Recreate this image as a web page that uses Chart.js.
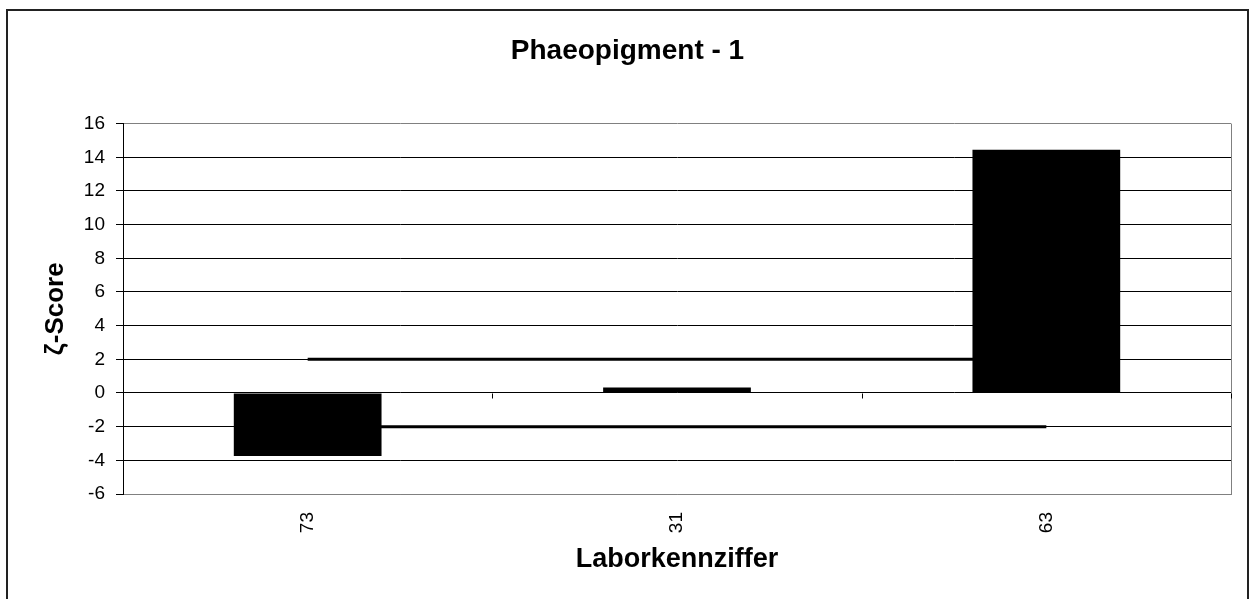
<!DOCTYPE html>
<html>
<head>
<meta charset="utf-8">
<script src="https://cdn.jsdelivr.net/npm/chart.js@4.4.1/dist/chart.umd.min.js"></script>
<style>
  html, body { margin: 0; padding: 0; background: #fff; }
  #wrap { width: 1255px; height: 599px; }
</style>
</head>
<body>
<div id="wrap"><canvas id="chart" width="1255" height="599"></canvas></div>
<script>
    "use strict";
    // chart data
    var labs = ['73', '31', '63'];
    var zScores = [-3.75, 0.33, 14.45];
    var upperLimit = [2, 2, 2];
    var lowerLimit = [-2, -2, -2];
    var yTicks = [-6, -4, -2, 0, 2, 4, 6, 8, 10, 12, 14, 16];

    var FONT = "Arial, 'Liberation Sans', sans-serif";

    // outer frame, right border of plot area, small ticks on the zero line
    var framePlugin = {
        id: 'frame',
        afterLayout: function(chart) {
            // centre the title on the whole canvas, not on the padded box
            if (chart.titleBlock) {
                chart.titleBlock.left = 0;
                chart.titleBlock.right = chart.width;
            }
        },
        afterDraw: function(chart) {
            var c = chart.ctx;
            var a = chart.chartArea;
            var x = chart.scales.x, y = chart.scales.y;
            c.save();
            c.strokeStyle = '#808080';
            c.lineWidth = 1;
            c.beginPath();
            c.moveTo(a.right + 0.5, a.top);
            c.lineTo(a.right + 0.5, a.bottom);
            c.stroke();

            var y0 = Math.round(y.getPixelForValue(0)) + 0.5;
            c.strokeStyle = '#000';
            c.beginPath();
            for (var i = 0; i < labs.length - 1; i++) {
                var bx = Math.round((x.getPixelForValue(i) + x.getPixelForValue(i + 1)) / 2) + 0.5;
                c.moveTo(bx, y0);
                c.lineTo(bx, y0 + 5);
            }
            c.moveTo(a.right + 0.5, y0);
            c.lineTo(a.right + 0.5, y0 + 5);
            c.stroke();

            c.strokeStyle = '#222';
            c.lineWidth = 2;
            c.beginPath();
            c.moveTo(7, 600);
            c.lineTo(7, 10);
            c.lineTo(1248, 10);
            c.lineTo(1248, 600);
            c.stroke();
            c.restore();
        }
    };

    new Chart(document.getElementById('chart'), {
        type: 'bar',
        data: {
            labels: labs,
            datasets: [
                {
                    label: 'ζ-Score',
                    data: zScores,
                    backgroundColor: '#000',
                    borderColor: '#000',
                    borderWidth: 0,
                    barPercentage: 0.4,
                    categoryPercentage: 1.0,
                    order: 0
                },
                {
                    type: 'line',
                    label: '+2',
                    data: upperLimit,
                    borderColor: '#000',
                    borderWidth: 3,
                    pointRadius: 0,
                    fill: false,
                    order: 1
                },
                {
                    type: 'line',
                    label: '-2',
                    data: lowerLimit,
                    borderColor: '#000',
                    borderWidth: 3,
                    pointRadius: 0,
                    fill: false,
                    order: 1
                }
            ]
        },
        options: {
            responsive: false,
            animation: false,
            layout: { padding: { left: 0, right: 24, top: 0, bottom: 0 } },
            plugins: {
                legend: { display: false },
                tooltip: { enabled: false },
                title: {
                    display: true,
                    text: 'Phaeopigment - 1',
                    color: '#000',
                    font: { family: FONT, size: 28, weight: 'bold' },
                    padding: { top: 34, bottom: 56 }
                }
            },
            scales: {
                x: {
                    offset: true,
                    grid: { display: false, drawTicks: false },
                    border: { display: true, color: '#808080', width: 1 },
                    ticks: {
                        color: '#000',
                        font: { family: FONT, size: 19 },
                        minRotation: 90,
                        maxRotation: 90,
                        padding: 18
                    },
                    title: {
                        display: true,
                        text: 'Laborkennziffer',
                        color: '#000',
                        font: { family: FONT, size: 27, weight: 'bold' },
                        padding: { top: 0, bottom: 23 }
                    },
                    afterFit: function(s) { s.height = 105; }
                },
                y: {
                    min: -6,
                    max: 16,
                    afterBuildTicks: function(s) {
                        s.ticks = yTicks.map(function(v) { return { value: v }; });
                    },
                    grid: {
                        color: function(ctx) {
                            var v = ctx.tick ? ctx.tick.value : 0;
                            return (v === 16 || v === -6) ? '#808080' : '#000';
                        },
                        tickColor: '#000',
                        tickLength: 7,
                        lineWidth: 1
                    },
                    border: { display: true, color: '#000', width: 1 },
                    ticks: {
                        color: '#000',
                        font: { family: FONT, size: 19 },
                        padding: 11
                    },
                    title: {
                        display: true,
                        text: 'ζ-Score',
                        color: '#000',
                        font: { family: FONT, size: 26, weight: 'bold' },
                        padding: { top: 40, bottom: 0 }
                    },
                    afterFit: function(s) { s.width = 123; }
                }
            }
        },
        plugins: [framePlugin]
    });
</script>
</body>
</html>
